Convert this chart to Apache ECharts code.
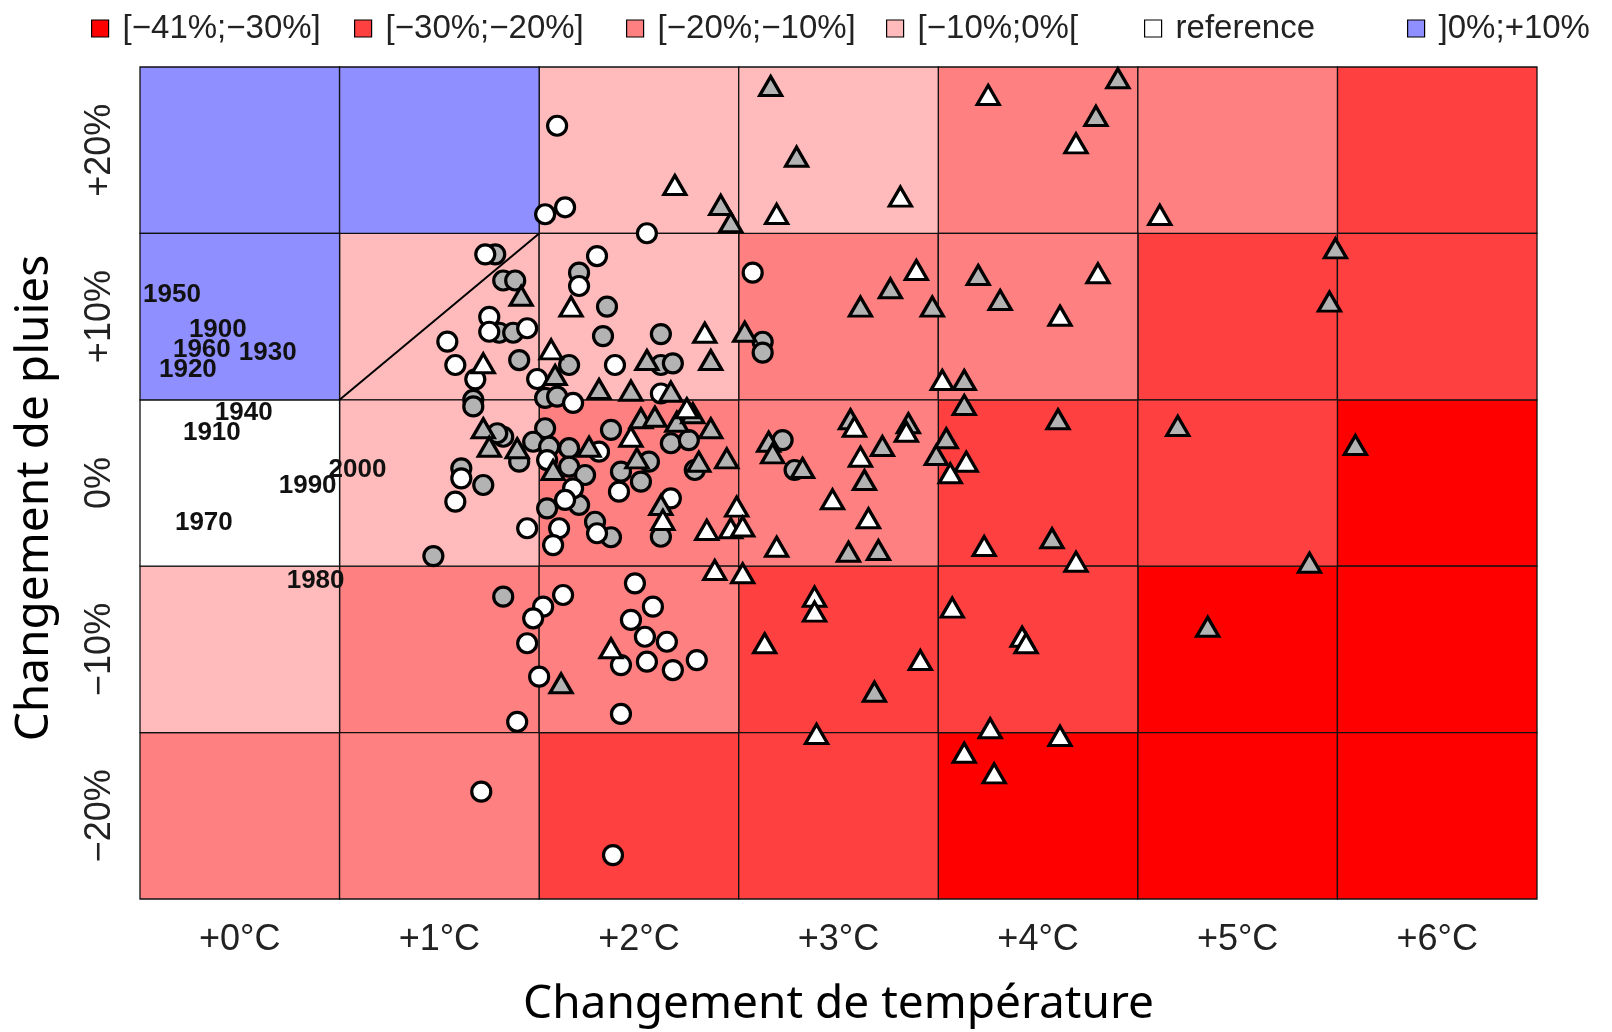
<!DOCTYPE html>
<html>
<head>
<meta charset="utf-8">
<script src="https://cdn.jsdelivr.net/npm/echarts@6/dist/echarts.min.js"></script>
<style>
  html, body { margin: 0; padding: 0; background: #fff; }
  #chart { width: 1612px; height: 1032px; }
</style>
</head>
<body>
<div id="chart"></div>
<script>
// axes
const temps = [0, 1, 2, 3, 4, 5, 6];
const tempLabels = ['+0°C', '+1°C', '+2°C', '+3°C', '+4°C', '+5°C', '+6°C'];
const rainTicks = [-20, -10, 0, 10, 20];
const rainLabels = ['−20%', '−10%', '0%', '+10%', '+20%'];

// cell classes (rows top -> bottom, columns = temps)
const rainBands = [20, 10, 0, -10, -20];
const cellClass = [
  [5, 5, 3, 3, 2, 2, 1],
  [5, 3, 3, 2, 2, 1, 1],
  [4, 3, 2, 2, 1, 1, 0],
  [3, 2, 2, 1, 1, 0, 0],
  [2, 2, 1, 1, 0, 0, 0]
];
const classNames = ['[−41%;−30%]', '[−30%;−20%]', '[−20%;−10%]', '[−10%;0%[', 'reference', ']0%;+10%'];
const classColors = ['#ff0000', '#ff4040', '#ff8080', '#ffbbbb', '#ffffff', '#8f8fff'];

const diagLine = [[0.5, 5], [1.5, 15]];

// decade labels
const decadeNames = ['1950', '1900', '1960', '1930', '1920', '1940', '1910', '2000', '1990', '1970', '1980'];
const decadeT = [-0.34, -0.11, -0.19, 0.14, -0.26, 0.02, -0.14, 0.59, 0.34, -0.18, 0.38];
const decadeR = [11.3, 9.2, 8.0, 7.8, 6.8, 4.2, 3.0, 0.8, -0.2, -2.4, -5.9];

// [temperature change, rain change %]
const whiteCircles = [
  [1.59, 21.47], [1.63, 16.57], [1.53, 16.15], [2.04, 15.01], [1.23, 13.74], [1.79, 13.64], [1.70, 11.84],
  [1.25, 9.98], [1.25, 9.09], [1.44, 9.30], [1.04, 8.50], [1.08, 7.09], [1.18, 6.23], [1.88, 7.09],
  [2.11, 5.38], [2.57, 12.64], [1.49, 6.25], [1.67, 4.81], [1.11, 0.28], [1.08, -1.12], [1.80, 1.88],
  [1.54, 1.38], [1.67, -0.32], [1.63, -1.02], [1.44, -2.72], [1.60, -2.72], [1.57, -3.73], [1.79, -3.02],
  [1.90, -0.52], [2.16, -0.92], [1.52, -7.43], [1.62, -6.73], [1.47, -8.13], [1.44, -9.63], [1.50, -11.64],
  [1.98, -6.03], [2.07, -7.43], [1.96, -8.23], [2.03, -9.24], [2.14, -9.54], [1.91, -10.94], [2.04, -10.74],
  [2.17, -11.24], [2.29, -10.64], [1.39, -14.35], [1.91, -13.88], [1.21, -18.55], [1.87, -22.36]
];
const greyCircles = [
  [1.28, 13.74], [1.32, 12.17], [1.38, 12.17], [1.70, 12.64], [1.30, 9.03], [1.37, 9.03], [1.40, 7.39],
  [1.84, 10.60], [1.82, 8.83], [2.11, 8.95], [2.62, 8.49], [2.62, 7.83], [1.65, 7.09], [2.11, 7.09],
  [2.17, 7.19], [1.17, 5.0], [1.53, 5.11], [1.59, 5.19], [1.17, 4.6], [1.32, 2.78], [1.29, 2.99],
  [1.40, 1.28], [1.11, 0.88], [1.22, -0.12], [0.97, -4.39], [1.53, 3.29], [1.47, 2.48], [1.55, 2.18],
  [1.65, 2.09], [1.65, 0.98], [1.73, 0.48], [1.70, -1.32], [1.54, -1.52], [1.78, -2.33], [1.86, -3.26],
  [1.86, 3.19], [2.16, 2.39], [2.25, 2.58], [2.05, 1.28], [1.91, 0.68], [2.01, 0.08], [2.28, 0.78],
  [2.11, -3.23], [1.32, -6.83], [2.72, 2.58], [2.78, 0.78]
];
const whiteTriangles = [
  [2.18, 17.91], [2.69, 16.17], [3.31, 17.21], [3.75, 23.32], [4.19, 20.41], [4.61, 16.11], [3.39, 12.80],
  [4.11, 10.05], [4.30, 12.60], [1.66, 10.60], [2.33, 9.03], [1.56, 8.03], [1.22, 7.19], [3.52, 6.19],
  [3.08, 3.38], [3.34, 3.08], [3.64, 1.28], [3.56, 0.58], [3.11, 1.58], [2.97, -0.98], [3.15, -2.12],
  [2.69, -3.83], [3.73, -3.79], [4.19, -4.73], [2.88, -6.83], [2.88, -7.73], [2.63, -9.63], [3.57, -7.49],
  [3.92, -9.24], [3.94, -9.63], [3.41, -10.64], [2.89, -15.08], [3.76, -14.74], [4.11, -15.20],
  [3.63, -16.21], [3.78, -17.45], [2.49, -1.42], [2.46, -2.72], [2.52, -2.62], [2.34, -2.82],
  [2.38, -5.23], [2.52, -5.43], [2.12, -2.22], [1.96, 2.78], [1.86, -9.93], [2.24, 4.49]
];
const greyTriangles = [
  [2.41, 16.71], [2.46, 15.67], [2.66, 23.86], [2.79, 19.61], [4.40, 24.32], [4.29, 22.06], [5.49, 14.10],
  [5.46, 10.90], [3.26, 11.70], [3.11, 10.60], [3.47, 10.60], [3.70, 12.50], [3.81, 11.00], [1.41, 11.25],
  [2.53, 9.09], [2.36, 7.39], [2.04, 7.39], [1.58, 6.49], [1.80, 5.65], [1.96, 5.55], [2.16, 5.49],
  [3.63, 6.19], [3.63, 4.69], [4.10, 3.83], [4.70, 3.43], [5.59, 2.28], [5.36, -4.79], [4.85, -8.64],
  [3.06, 3.83], [3.35, 3.59], [3.54, 2.69], [3.49, 1.68], [2.65, 2.48], [2.67, 1.78], [3.22, 2.22],
  [3.13, 0.18], [3.05, -4.13], [3.20, -4.03], [4.07, -3.32], [3.18, -12.54], [1.61, -12.04], [1.22, 3.29],
  [1.25, 2.18], [1.39, 2.09], [1.75, 2.18], [1.57, 0.78], [2.01, 3.89], [2.08, 3.98], [2.19, 3.68],
  [2.27, 4.19], [2.36, 3.29], [1.99, 1.48], [2.30, 1.28], [2.44, 1.48], [2.11, -1.32], [2.82, 0.90]
];

const chart = echarts.init(document.getElementById('chart'));

const cellSeries = classNames.map((name, k) => {
  const data = [];
  rainBands.forEach((r, i) => {
    temps.forEach((t, j) => {
      if (cellClass[i][j] === k) data.push([t, r]);
    });
  });
  return {
    name: name,
    type: 'custom',
    z: 1,
    itemStyle: { color: classColors[k] },
    data: data,
    renderItem: (params, api) => {
      const t = api.value(0);
      const r = api.value(1);
      const p1 = api.coord([t - 0.5, r + 5]);
      const p2 = api.coord([t + 0.5, r - 5]);
      return {
        type: 'rect',
        shape: { x: p1[0], y: p1[1], width: p2[0] - p1[0], height: p2[1] - p1[1] },
        style: { fill: classColors[k], stroke: '#111', lineWidth: 1.3 }
      };
    }
  };
});

const markerStyle = (fill) => ({ color: fill, opacity: 1, borderColor: '#000', borderWidth: 3.2 });

const legendLefts = [91, 354, 626, 886, 1144, 1407];
const legends = classNames.map((name, k) => ({
  left: legendLefts[k],
  top: 12,
  padding: 0,
  selectedMode: false,
  itemWidth: 17,
  itemHeight: 17,
  data: [{ name: name, icon: 'rect', itemStyle: { color: classColors[k], borderColor: '#000', borderWidth: 1.2 } }],
  textStyle: { fontFamily: 'Liberation Sans', fontSize: 33, color: '#222', padding: [0, 0, 0, 9] }
}));

const option = {
  animation: false,
  backgroundColor: '#fff',
  legend: legends,
  grid: { left: 140, right: 75, top: 67, bottom: 133, containLabel: false, outerBoundsMode: 'none' },
  xAxis: {
    type: 'value',
    min: -0.5,
    max: 6.5,
    name: 'Changement de température',
    nameLocation: 'middle',
    nameGap: 83,
    nameTextStyle: { fontFamily: 'Noto Sans', fontSize: 46, color: '#000' },
    axisLine: { show: false },
    axisTick: { show: false },
    splitLine: { show: false },
    axisLabel: {
      customValues: temps,
      formatter: (v) => tempLabels[temps.indexOf(v)],
      fontFamily: 'Liberation Sans',
      fontSize: 36,
      color: '#222',
      margin: 23
    }
  },
  yAxis: {
    type: 'value',
    min: -25,
    max: 25,
    name: 'Changement de pluies',
    nameLocation: 'middle',
    nameGap: 82,
    nameTextStyle: { fontFamily: 'Noto Sans', fontSize: 46, color: '#000', padding: [0, 30, 0, 0] },
    axisLine: { show: false },
    axisTick: { show: false },
    splitLine: { show: false },
    axisLabel: {
      customValues: rainTicks,
      formatter: (v) => rainLabels[rainTicks.indexOf(v)],
      rotate: 90,
      fontFamily: 'Liberation Sans',
      fontSize: 36,
      color: '#222',
      margin: 22
    }
  },
  series: [
    ...cellSeries,
    {
      type: 'line',
      data: diagLine,
      symbol: 'none',
      z: 2,
      lineStyle: { color: '#000', width: 2 }
    },
    {
      type: 'custom',
      z: 3,
      data: decadeNames.map((n, i) => [decadeT[i], decadeR[i]]),
      renderItem: (params, api) => {
        const p = api.coord([api.value(0), api.value(1)]);
        return {
          type: 'text',
          x: p[0],
          y: p[1],
          style: {
            text: decadeNames[params.dataIndex],
            font: 'bold 26px "Liberation Sans"',
            fill: '#111',
            align: 'center',
            verticalAlign: 'middle'
          }
        };
      }
    },
    { type: 'scatter', z: 4, symbol: 'circle', symbolSize: 19, data: greyCircles, itemStyle: markerStyle('#b3b3b3') },
    { type: 'scatter', z: 4, symbol: 'circle', symbolSize: 19, data: whiteCircles, itemStyle: markerStyle('#ffffff') },
    { type: 'scatter', z: 4, symbol: 'triangle', symbolSize: [22, 19], data: greyTriangles, itemStyle: markerStyle('#b3b3b3') },
    { type: 'scatter', z: 4, symbol: 'triangle', symbolSize: [22, 19], data: whiteTriangles, itemStyle: markerStyle('#ffffff') }
  ]
};

chart.setOption(option);
</script>
</body>
</html>
